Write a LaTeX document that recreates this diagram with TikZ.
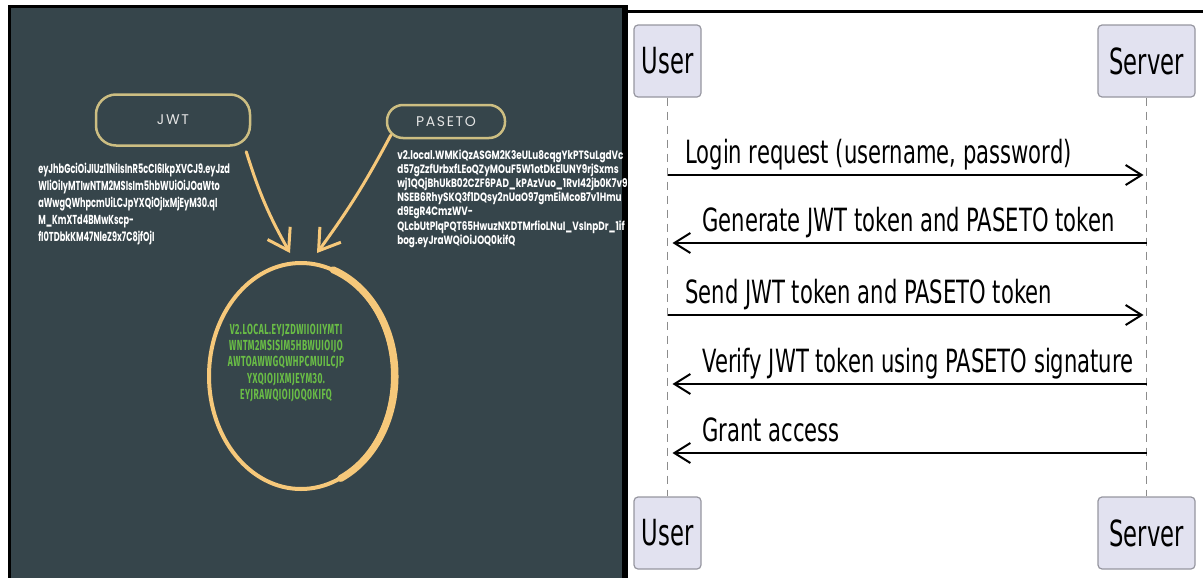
\documentclass[tikz,border=0pt]{standalone}
\usepackage{fontspec}
\setmainfont{DejaVu Sans}
\newfontfamily\popfont{Poppins}
\newfontfamily\firafont{Fira Sans}
\usetikzlibrary{arrows.meta, positioning, calc}

\definecolor{slate}{RGB}{54,69,75}
\definecolor{pillgold}{RGB}{205,190,130}
\definecolor{chalk}{RGB}{246,200,122}
\definecolor{tokgreen}{RGB}{106,190,70}
\definecolor{actorfill}{RGB}{226,226,240}
\definecolor{actorline}{RGB}{150,150,160}
\definecolor{lifegray}{RGB}{140,140,140}

\newcommand{\squash}[2]{\scalebox{#1}[1]{#2}}

\tikzset{
  pill/.style={draw=pillgold, line width=1.25pt, rounded corners=10pt,
    text=white!90!black, font=\popfont\fontsize{7}{8}\selectfont\addfontfeatures{LetterSpace=12}},
  tokentext/.style={text=white, align=left, inner sep=0pt, anchor=north west},
  chalkarrow/.style={chalk, line width=1.5pt, line cap=round,
    -{Straight Barb[length=10pt, width=13pt, line width=1.5pt]}},
  actor/.style={draw=actorline, fill=actorfill, rounded corners=2pt, line width=0.6pt,
    minimum height=36pt, font=\fontsize{18}{20}\selectfont},
  lifeline/.style={lifegray, line width=0.5pt, dash pattern=on 4pt off 3pt},
  msg/.style={line width=1pt, -{Straight Barb[length=8pt, width=10pt, line width=1pt]}},
  msgtext/.style={anchor=base west, inner sep=0pt, xscale=0.66, font=\fontsize{16}{18}\selectfont}
}

\begin{document}
\begin{tikzpicture}[x=0.5pt, y=-0.5pt]
  \useasboundingbox (0,0) rectangle (1203,578);

  % Left panel: tokens
  \fill[black] (8,5) rectangle (628,578);
  \fill[slate] (11,8) rectangle (622,578);

  \node[pill, minimum width=77pt, minimum height=25.5pt] (jwt) at (173,120) {JWT};
  \node[pill, minimum width=59pt, minimum height=16.5pt, rounded corners=8pt] (paseto) at (446,121.5) {PASETO};

  \node[tokentext, xscale=0.63, font=\popfont\bfseries\fontsize{6.5}{8.5}\selectfont] (jwttext) at (38,163)
    {eyJhbGciOiJIUzI1NiIsInR5cCI6IkpXVCJ9.eyJzd\\
     WliOiIyMTIwNTM2MSIsIm5hbWUiOiJOaWto\\
     aWwgQWhpcmUiLCJpYXQiOjIxMjEyM30.qI\\
     M\_KmXTd4BMwKscp-\\
     fI0TDbkKM47NleZ9x7C8jfOjI};

  \node[tokentext, xscale=0.74, font=\popfont\bfseries\fontsize{6}{7.1}\selectfont] (pasetotext) at (397,149)
    {v2.local.WMKiQzASGM2K3eULu8cqgYkPTSuLgdVc\\
     d57gZzfUrbxfLEoQZyMOuF5W1otDkElUNY9rjSxms\\
     wj1QQjBhUkB02CZF6PAD\_kPAzVuo\_1RvI42jb0K7v9\\
     NSEB6RhySKQ3f1DQsy2nUaO97gmEiMcoB7v1Hmu\\
     d9EgR4CmzWV-\\
     QLcbUtPlqPQT65HwuzNXDTMrfioLNuI\_VsInpDr\_1if\\
     bog.eyJraWQiOiJOQ0kifQ};

  % the seal
  \draw[chalk, line width=2pt] (301,376) ellipse [x radius=92, y radius=113];
  \draw[chalk, line width=3.5pt, line cap=round]
    ($(301,376)+(65:94 and 113)$) arc [start angle=65, end angle=-70, x radius=94, y radius=113];
  \coordinate (seal) at (301,376);

  \node[text=tokgreen, align=center, font=\firafont\bfseries\fontsize{7.3}{8.2}\selectfont\addfontfeatures{LetterSpace=6},
    xscale=0.58] (pasetoupper) at (286,363)
    {V2.LOCAL.EYJZDWIIOIIYMTI\\
     WNTM2MSISIM5HBWUIOIJO\\
     AWTOAWWGQWHPCMUILCJP\\
     YXQIOJIXMJEYM30.\\
     EYJRAWQIOIJOQ0KIFQ};

  \coordinate (jwthit) at (290,253);
  \coordinate (pashit) at (317,253);
  \draw[chalkarrow] ($(jwt.south east)+(-5,5)$) to[bend right=6] (jwthit);
  \draw[chalkarrow] ($(paseto.south west)+(5,-4)$) to[bend left=4] (pashit);

  % Right panel: sequence
  \fill[black] (628,10) rectangle (1203,13);

  \node[actor, minimum width=33.5pt] (userT) at (667.5,61) {\squash{0.63}{User}};
  \node[actor, minimum width=48.5pt] (serverT) at (1146.5,61) {\squash{0.63}{Server}};
  \node[actor, minimum width=33.5pt] (userB) at (667.5,533) {\squash{0.63}{User}};
  \node[actor, minimum width=48.5pt] (serverB) at (1146.5,533) {\squash{0.63}{Server}};

  \draw[lifeline] (userT) -- (userB);
  \draw[lifeline] (serverT) -- (serverB);

  \foreach \i/\y in {1/175, 2/243, 3/315, 4/384, 5/453} {
    \coordinate (u\i) at (userT.south |- 0,\y);
    \coordinate (s\i) at (serverT.south |- 0,\y);
  }

  \node[msgtext] (m1) at (685,163) {Login request (username, password)};
  \draw[msg, shorten >=1.5pt] (u1) -- (s1);

  \node[msgtext] (m2) at (702,231) {Generate JWT token and PASETO token};
  \draw[msg, shorten >=2.5pt] (s2) -- (u2);

  \node[msgtext] (m3) at (685,303) {Send JWT token and PASETO token};
  \draw[msg, shorten >=1.5pt] (u3) -- (s3);

  \node[msgtext] (m4) at (702,372) {Verify JWT token using PASETO signature};
  \draw[msg, shorten >=2.5pt] (s4) -- (u4);

  \node[msgtext] (m5) at (702,441) {Grant access};
  \draw[msg, shorten >=2.5pt] (s5) -- (u5);
\end{tikzpicture}
\end{document}
